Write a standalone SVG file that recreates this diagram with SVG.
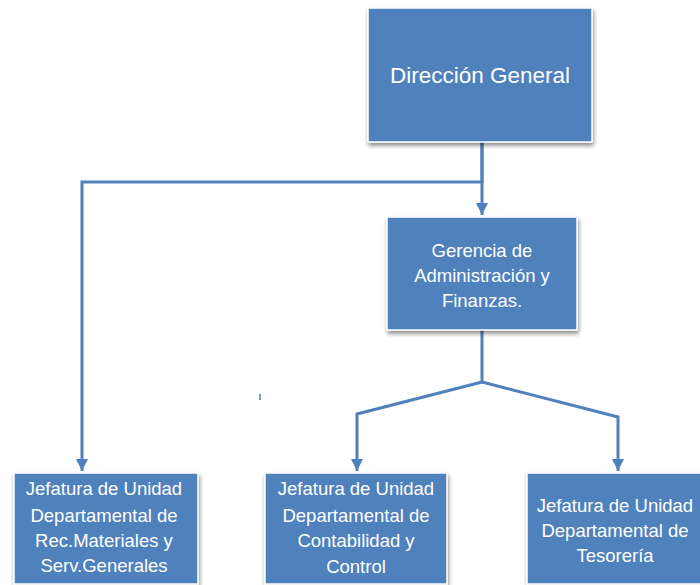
<svg xmlns="http://www.w3.org/2000/svg" width="700" height="585" viewBox="0 0 700 585">
<defs>
<style>
.box{fill:#4F81BD;stroke:#ffffff;stroke-width:1.5;filter:url(#sh)}
.t{font-family:"Liberation Sans",Arial,sans-serif;fill:#ffffff;text-anchor:middle}
.c{fill:none;stroke:#4F81BD;stroke-width:3}
</style>
<filter id="sh" x="-10%" y="-10%" width="125%" height="130%">
<feGaussianBlur in="SourceAlpha" stdDeviation="2"/>
<feOffset dx="1" dy="3" result="b"/>
<feComponentTransfer><feFuncA type="linear" slope="0.45"/></feComponentTransfer>
<feMerge><feMergeNode/><feMergeNode in="SourceGraphic"/></feMerge>
</filter>
<marker id="ah" viewBox="0 0 10 10" refX="10" refY="5" markerWidth="4" markerHeight="4" orient="auto" markerUnits="strokeWidth">
<path d="M0,0 L10,5 L0,10 z" fill="#4F81BD"/>
</marker>
</defs>
<g id="connectors">
<polyline class="c" points="482,142 482,182 82,182 82,471" marker-end="url(#ah)"/>
<line class="c" x1="482" y1="142" x2="482" y2="215" marker-end="url(#ah)"/>
<polyline class="c" points="482,330 482,382 357,414 357,471" marker-end="url(#ah)"/>
<polyline class="c" points="482,382 618,417 618,471" marker-end="url(#ah)"/>
<line x1="260" y1="394" x2="260" y2="400" stroke="#4F81BD" stroke-width="1.5"/>
</g>
<g id="direccion">
<rect class="box" x="368" y="8" width="224" height="134"/>
<text class="t" x="480" y="83" font-size="22.5">Dirección General</text>
</g>
<g id="gerencia">
<rect class="box" x="387" y="217" width="190" height="113"/>
<text class="t" font-size="18.5"><tspan x="482" y="257">Gerencia de</tspan><tspan x="482" y="282">Administración y</tspan><tspan x="482" y="307">Finanzas.</tspan></text>
</g>
<g id="rec-materiales">
<rect class="box" x="14" y="473" width="184" height="111"/>
<text class="t" font-size="18.5"><tspan x="104" y="495">Jefatura de Unidad</tspan><tspan x="104" y="522">Departamental de</tspan><tspan x="104" y="547">Rec.Materiales y</tspan><tspan x="104" y="572">Serv.Generales</tspan></text>
</g>
<g id="contabilidad">
<rect class="box" x="265" y="473" width="182" height="111"/>
<text class="t" font-size="18.5"><tspan x="356" y="495">Jefatura de Unidad</tspan><tspan x="356" y="522">Departamental de</tspan><tspan x="356" y="547">Contabilidad y</tspan><tspan x="356" y="573">Control</tspan></text>
</g>
<g id="tesoreria">
<rect class="box" x="527" y="473" width="176" height="111"/>
<text class="t" font-size="18.5"><tspan x="615" y="512">Jefatura de Unidad</tspan><tspan x="615" y="537">Departamental de</tspan><tspan x="615" y="562">Tesorería</tspan></text>
</g>
</svg>
